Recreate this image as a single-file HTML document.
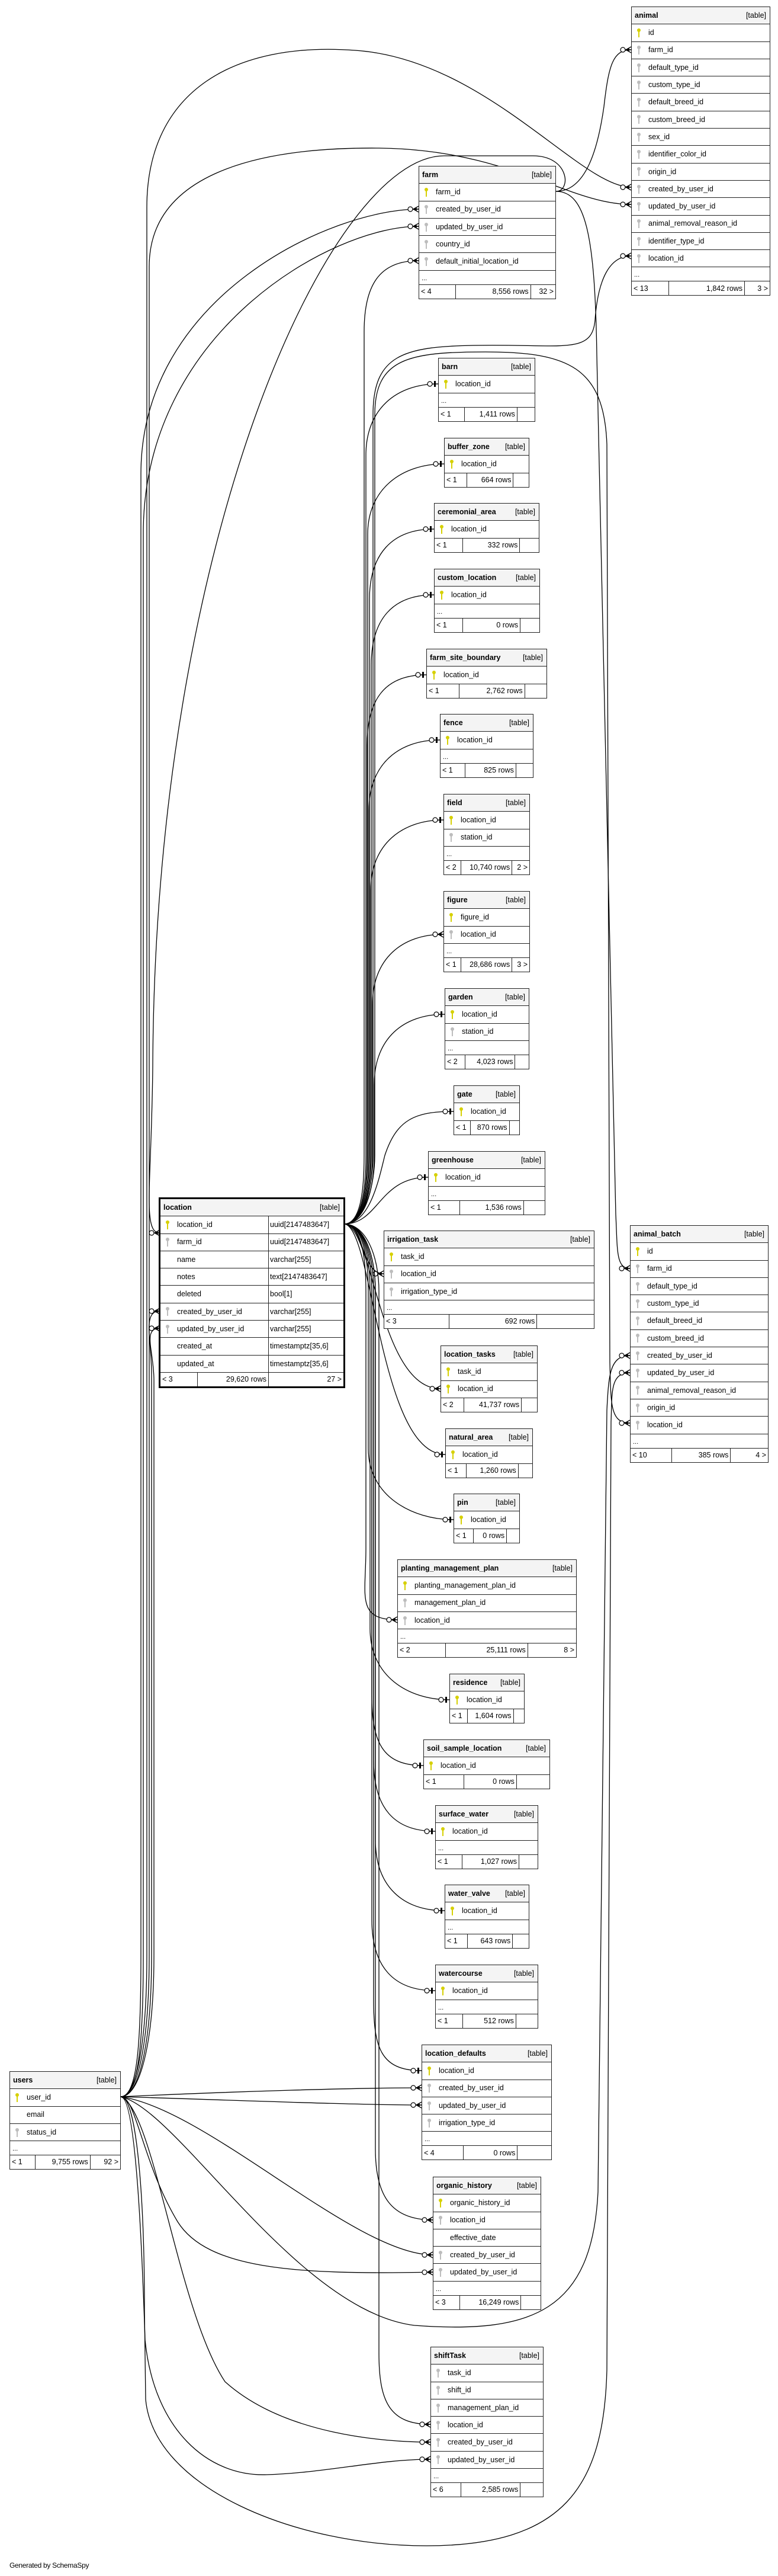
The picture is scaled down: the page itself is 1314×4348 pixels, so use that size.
<!DOCTYPE html>
<html><head><meta charset="utf-8">
<style>
*{box-sizing:border-box;margin:0;padding:0}
body{width:1314px;height:4348px;background:#fff;position:relative;overflow:hidden;font-family:"Liberation Sans",Arial,sans-serif;color:#000}
svg{position:absolute;left:0;top:0}
.t{position:absolute;border:1px solid #222;background:#fff;font-size:12.5px;line-height:1}
.t.big{border:3px solid #000}
.h{height:29.3px;background:#f4f4f4;border-bottom:1px solid #222;display:flex;justify-content:space-between;align-items:center;padding:0 6px 0 5px;font-weight:bold;white-space:nowrap}
.h span{font-weight:normal}
.r{height:29.3px;border-bottom:1px solid #222;display:flex;align-items:center;padding-left:8px;white-space:nowrap}
.e{height:24px;border-bottom:1px solid #222;padding:8px 0 0 4px;font-size:11px}
.f{height:23px;display:flex;white-space:nowrap}
.f div{display:flex;align-items:center;padding:0 3px}
.f .a{width:27%;border-right:1px solid #222}
.f .b{flex:1;justify-content:flex-end;border-right:1px solid #222}
.f .c{width:18%;justify-content:flex-end}
.k{display:inline-block;width:8px;height:15px;position:relative;margin-right:12px;flex:none}
.k::before{content:"";position:absolute;left:1px;top:0;width:6px;height:6px;border-radius:50%;background:currentColor}
.k::after{content:"";position:absolute;left:3px;top:5px;width:2px;height:10px;background:currentColor}
.p{color:#d6d000}.g{color:#bdbdbd}.n{color:transparent}
.loc .r{padding-left:0}
.loc .r .c1{width:183px;height:100%;display:flex;align-items:center;padding-left:8px;border-right:1px solid #222}
.loc .r .c2{padding-left:2px}
#gen{position:absolute;left:16px;top:4323px;font-size:12px;letter-spacing:-0.3px}
</style></head><body>

<svg width="1314" height="4348" viewBox="0 0 1314 4348">
<defs>
<marker id="one" markerUnits="userSpaceOnUse" markerWidth="22" markerHeight="14" viewBox="0 -7 22 14" refX="22" refY="0" orient="auto">
<line x1="12" y1="0" x2="22" y2="0" stroke="#000" stroke-width="1.2"/>
<circle cx="8" cy="0" r="4" fill="#fff" stroke="#000" stroke-width="1.2"/>
<rect x="15" y="-5" width="3" height="10" fill="#000"/>
</marker>
<marker id="many" markerUnits="userSpaceOnUse" markerWidth="22" markerHeight="14" viewBox="0 -7 22 14" refX="22" refY="0" orient="auto">
<circle cx="8" cy="0" r="4" fill="#fff" stroke="#000" stroke-width="1.2"/>
<path d="M12,0 L22,0 M13,0 L22,-5 M13,0 L22,5 M13,0 L18,-2.5 L18,2.5 Z" stroke="#000" stroke-width="1.4" fill="#000"/>
</marker>
</defs>
<g fill="none" stroke="#000" stroke-width="1.3">
<!-- location.location_id to children (upward) -->
<path marker-end="url(#one)" d="M581,2066 C610,2066 618,2010 618,1950 L618,768 C618,690 670,648 740,648"/>
<path marker-end="url(#one)" d="M581,2066 C611,2066 621,2010 621,1950 L621,902 C621,824 680,783 750,783"/>
<path marker-end="url(#one)" d="M581,2066 C612,2066 624,2010 624,1950 L624,1012 C624,934 663,893 733,893"/>
<path marker-end="url(#one)" d="M581,2066 C613,2066 627,2010 627,1950 L627,1123 C627,1045 663,1004 733,1004"/>
<path marker-end="url(#one)" d="M581,2066 C611,2066 620,2010 620,1950 L620,1258 C620,1180 650,1139 720,1139"/>
<path marker-end="url(#one)" d="M581,2066 C612,2066 623,2010 623,1950 L623,1368 C623,1290 673,1249 743,1249"/>
<path marker-end="url(#one)" d="M581,2066 C613,2066 626,2010 626,1950 L626,1503 C626,1425 679,1384 749,1384"/>
<path marker-end="url(#many)" d="M581,2066 C614,2066 629,2010 629,1950 L629,1696 C629,1618 679,1577 749,1577"/>
<path marker-end="url(#one)" d="M581,2066 C615,2066 632,2010 632,1950 L632,1831 C632,1753 681,1712 751,1712"/>
<path marker-end="url(#one)" d="M581,2066 C625,2066 640,1990 650,1950 C670,1890 700,1876 766,1876"/>
<path marker-end="url(#one)" d="M581,2066 C640,2066 640,1987 723,1987"/>
<path marker-end="url(#many)" d="M581,2066 C609,2066 615,2010 615,1950 L615,560 C615,482 640,440 707,440"/>
<path marker-end="url(#many)" d="M581,2066 C615,2066 610,2150 648,2150"/>
<path marker-end="url(#many)" d="M581,2066 C630,2066 640,2344 744,2344"/>
<path marker-end="url(#one)" d="M581,2066 C630,2066 640,2455 752,2455"/>
<!-- downward -->
<path marker-end="url(#one)" d="M581,2066 C612,2066 622,2120 622,2180 L622,2445 C622,2525 696,2565 766,2565"/>
<path marker-end="url(#many)" d="M581,2066 C610,2066 618,2120 618,2180 L618,2614 C618,2694 601,2734 671,2734"/>
<path marker-end="url(#one)" d="M581,2066 C613,2066 625,2120 625,2180 L625,2749 C625,2829 689,2869 759,2869"/>
<path marker-end="url(#one)" d="M581,2066 C614,2066 628,2120 628,2180 L628,2860 C628,2940 645,2980 715,2980"/>
<path marker-end="url(#one)" d="M581,2066 C615,2066 631,2120 631,2180 L631,2971 C631,3051 665,3091 735,3091"/>
<path marker-end="url(#one)" d="M581,2066 C616,2066 634,2120 634,2180 L634,3105 C634,3185 681,3225 751,3225"/>
<path marker-end="url(#one)" d="M581,2066 C614,2066 628,2120 628,2180 L628,3240 C628,3320 665,3360 735,3360"/>
<path marker-end="url(#one)" d="M581,2066 C615,2066 631,2120 631,2180 L631,3375 C631,3455 642,3495 712,3495"/>
<path marker-end="url(#many)" d="M581,2066 C616,2066 634,2120 634,2180 L634,3627 C634,3707 661,3747 731,3747"/>
<path marker-end="url(#many)" d="M581,2066 C618,2066 640,2120 640,2180 L640,3972 C640,4052 657,4092 727,4092"/>
<!-- location to animal / animal_batch -->
<path marker-end="url(#many)" d="M581,2066 C615,2066 630,2000 630,1950 L630,700 C630,600 680,585 800,583 C950,580 1000,600 1005,540 C1010,470 1030,432 1066,432"/>
<path marker-end="url(#many)" d="M581,2066 C616,2066 633,2000 633,1950 L633,700 C633,605 690,594 820,594 C960,594 1020,620 1025,750 L1030,2300 C1032,2370 1030,2402 1064,2402"/>
<!-- farm.farm_id -->
<path marker-end="url(#many)" d="M939,323 C990,323 1010,250 1020,180 C1028,110 1035,84 1066,84"/>
<path marker-end="url(#many)" d="M939,323 C990,323 1005,400 1008,600 L1040,2050 C1043,2110 1040,2141 1064,2141"/>
<path marker-end="url(#many)" d="M939,323 C965,323 962,263 900,263 L750,263 C560,263 262,900 258,1800 C256,2000 240,2081 270,2081"/>
<!-- users.user_id -->
<path marker-end="url(#many)" d="M204,3539 C232,3539 238,3450 238,3300 L238,800 C238,500 560,353 707,353"/>
<path marker-end="url(#many)" d="M204,3539 C234,3539 242,3450 242,3300 L242,900 C242,560 560,382 707,382"/>
<path marker-end="url(#many)" d="M204,3539 C230,3539 248,3450 248,3300 L248,350 C248,150 400,70 600,85 C820,100 980,316 1066,316"/>
<path marker-end="url(#many)" d="M204,3539 C232,3539 252,3450 252,3300 L252,450 C252,300 420,248 640,250 C860,252 960,345 1066,345"/>
<path marker-end="url(#many)" d="M204,3539 C235,3539 256,3450 256,3300 L256,2320 C256,2260 240,2213 270,2213"/>
<path marker-end="url(#many)" d="M204,3539 C236,3539 260,3450 260,3300 L260,2330 C260,2280 240,2242 270,2242"/>
<path marker-end="url(#many)" d="M204,3539 C300,3560 500,3900 700,3925 C900,3940 1000,3900 1010,3700 L1025,2380 C1028,2320 1030,2288 1064,2288"/>
<path marker-end="url(#many)" d="M204,3539 C230,3539 244,3700 244,3900 L246,4050 C260,4200 500,4297 720,4297 C950,4297 1020,4200 1025,4000 L1032,2400 C1034,2350 1030,2317 1064,2317"/>
<path marker-end="url(#many)" d="M204,3539 C400,3530 600,3524 712,3524"/>
<path marker-end="url(#many)" d="M204,3539 C400,3545 600,3553 712,3553"/>
<path marker-end="url(#many)" d="M204,3539 C350,3560 600,3806 731,3806"/>
<path marker-end="url(#many)" d="M204,3539 C230,3539 240,3650 300,3750 C350,3830 500,3840 731,3835"/>
<path marker-end="url(#many)" d="M204,3539 C260,3560 300,3900 380,4020 C480,4110 650,4122 727,4122"/>
<path marker-end="url(#many)" d="M204,3539 C230,3539 240,3800 245,3950 C260,4100 350,4180 450,4177 C550,4174 640,4151 727,4151"/>
</g>
</svg>

<!-- animal -->
<div class="t" style="left:1066px;top:11px;width:235px">
<div class="h">animal<span>[table]</span></div>
<div class="r"><i class="k p"></i>id</div>
<div class="r"><i class="k g"></i>farm_id</div>
<div class="r"><i class="k g"></i>default_type_id</div>
<div class="r"><i class="k g"></i>custom_type_id</div>
<div class="r"><i class="k g"></i>default_breed_id</div>
<div class="r"><i class="k g"></i>custom_breed_id</div>
<div class="r"><i class="k g"></i>sex_id</div>
<div class="r"><i class="k g"></i>identifier_color_id</div>
<div class="r"><i class="k g"></i>origin_id</div>
<div class="r"><i class="k g"></i>created_by_user_id</div>
<div class="r"><i class="k g"></i>updated_by_user_id</div>
<div class="r"><i class="k g"></i>animal_removal_reason_id</div>
<div class="r"><i class="k g"></i>identifier_type_id</div>
<div class="r"><i class="k g"></i>location_id</div>
<div class="e">...</div>
<div class="f"><div class="a">&lt; 13</div><div class="b">1,842 rows</div><div class="c">3 &gt;</div></div>
</div>

<!-- farm -->
<div class="t" style="left:707px;top:280px;width:232px">
<div class="h">farm<span>[table]</span></div>
<div class="r"><i class="k p"></i>farm_id</div>
<div class="r"><i class="k g"></i>created_by_user_id</div>
<div class="r"><i class="k g"></i>updated_by_user_id</div>
<div class="r"><i class="k g"></i>country_id</div>
<div class="r"><i class="k g"></i>default_initial_location_id</div>
<div class="e">...</div>
<div class="f"><div class="a">&lt; 4</div><div class="b">8,556 rows</div><div class="c">32 &gt;</div></div>
</div>

<div class="t" style="left:740px;top:604px;width:164px">
<div class="h">barn<span>[table]</span></div>
<div class="r"><i class="k p"></i>location_id</div>
<div class="e">...</div>
<div class="f"><div class="a">&lt; 1</div><div class="b">1,411 rows</div><div class="c"></div></div>
</div>

<div class="t" style="left:750px;top:739px;width:144px">
<div class="h">buffer_zone<span>[table]</span></div>
<div class="r"><i class="k p"></i>location_id</div>
<div class="f"><div class="a">&lt; 1</div><div class="b">664 rows</div><div class="c"></div></div>
</div>

<div class="t" style="left:733px;top:849px;width:178px">
<div class="h">ceremonial_area<span>[table]</span></div>
<div class="r"><i class="k p"></i>location_id</div>
<div class="f"><div class="a">&lt; 1</div><div class="b">332 rows</div><div class="c"></div></div>
</div>

<div class="t" style="left:733px;top:960px;width:179px">
<div class="h">custom_location<span>[table]</span></div>
<div class="r"><i class="k p"></i>location_id</div>
<div class="e">...</div>
<div class="f"><div class="a">&lt; 1</div><div class="b">0 rows</div><div class="c"></div></div>
</div>

<div class="t" style="left:720px;top:1095px;width:204px">
<div class="h">farm_site_boundary<span>[table]</span></div>
<div class="r"><i class="k p"></i>location_id</div>
<div class="f"><div class="a">&lt; 1</div><div class="b">2,762 rows</div><div class="c"></div></div>
</div>

<div class="t" style="left:743px;top:1205px;width:158px">
<div class="h">fence<span>[table]</span></div>
<div class="r"><i class="k p"></i>location_id</div>
<div class="e">...</div>
<div class="f"><div class="a">&lt; 1</div><div class="b">825 rows</div><div class="c"></div></div>
</div>

<div class="t" style="left:749px;top:1340px;width:146px">
<div class="h">field<span>[table]</span></div>
<div class="r"><i class="k p"></i>location_id</div>
<div class="r"><i class="k g"></i>station_id</div>
<div class="e">...</div>
<div class="f"><div class="a" style="width:20%">&lt; 2</div><div class="b">10,740 rows</div><div class="c" style="width:20%">2 &gt;</div></div>
</div>

<div class="t" style="left:749px;top:1504px;width:146px">
<div class="h">figure<span>[table]</span></div>
<div class="r"><i class="k p"></i>figure_id</div>
<div class="r"><i class="k g"></i>location_id</div>
<div class="e">...</div>
<div class="f"><div class="a" style="width:20%">&lt; 1</div><div class="b">28,686 rows</div><div class="c" style="width:20%">3 &gt;</div></div>
</div>

<div class="t" style="left:751px;top:1668px;width:143px">
<div class="h">garden<span>[table]</span></div>
<div class="r"><i class="k p"></i>location_id</div>
<div class="r"><i class="k g"></i>station_id</div>
<div class="e">...</div>
<div class="f"><div class="a" style="width:24%">&lt; 2</div><div class="b">4,023 rows</div><div class="c" style="width:16%"></div></div>
</div>

<div class="t" style="left:766px;top:1832px;width:112px">
<div class="h">gate<span>[table]</span></div>
<div class="r"><i class="k p"></i>location_id</div>
<div class="f"><div class="a" style="width:25%">&lt; 1</div><div class="b">870 rows</div><div class="c" style="width:15%"></div></div>
</div>

<div class="t" style="left:723px;top:1943px;width:198px">
<div class="h">greenhouse<span>[table]</span></div>
<div class="r"><i class="k p"></i>location_id</div>
<div class="e">...</div>
<div class="f"><div class="a">&lt; 1</div><div class="b">1,536 rows</div><div class="c"></div></div>
</div>

<!-- location -->
<div class="t big loc" style="left:268px;top:2021px;width:315px">
<div class="h">location<span>[table]</span></div>
<div class="r"><div class="c1"><i class="k p"></i>location_id</div><div class="c2">uuid[2147483647]</div></div>
<div class="r"><div class="c1"><i class="k g"></i>farm_id</div><div class="c2">uuid[2147483647]</div></div>
<div class="r"><div class="c1"><i class="k n"></i>name</div><div class="c2">varchar[255]</div></div>
<div class="r"><div class="c1"><i class="k n"></i>notes</div><div class="c2">text[2147483647]</div></div>
<div class="r"><div class="c1"><i class="k n"></i>deleted</div><div class="c2">bool[1]</div></div>
<div class="r"><div class="c1"><i class="k g"></i>created_by_user_id</div><div class="c2">varchar[255]</div></div>
<div class="r"><div class="c1"><i class="k g"></i>updated_by_user_id</div><div class="c2">varchar[255]</div></div>
<div class="r"><div class="c1"><i class="k n"></i>created_at</div><div class="c2">timestamptz[35,6]</div></div>
<div class="r"><div class="c1"><i class="k n"></i>updated_at</div><div class="c2">timestamptz[35,6]</div></div>
<div class="f"><div class="a" style="width:63px">&lt; 3</div><div class="b" style="flex:none;width:120px">29,620 rows</div><div class="c" style="flex:1">27 &gt;</div></div>
</div>

<div class="t" style="left:648px;top:2077px;width:356px">
<div class="h">irrigation_task<span>[table]</span></div>
<div class="r"><i class="k p"></i>task_id</div>
<div class="r"><i class="k g"></i>location_id</div>
<div class="r"><i class="k g"></i>irrigation_type_id</div>
<div class="e">...</div>
<div class="f"><div class="a" style="width:31%">&lt; 3</div><div class="b">692 rows</div><div class="c" style="width:27%"></div></div>
</div>

<div class="t" style="left:744px;top:2271px;width:164px">
<div class="h">location_tasks<span>[table]</span></div>
<div class="r"><i class="k p"></i>task_id</div>
<div class="r"><i class="k p"></i>location_id</div>
<div class="f"><div class="a" style="width:24%">&lt; 2</div><div class="b">41,737 rows</div><div class="c" style="width:16%"></div></div>
</div>

<div class="t" style="left:752px;top:2411px;width:148px">
<div class="h">natural_area<span>[table]</span></div>
<div class="r"><i class="k p"></i>location_id</div>
<div class="f"><div class="a" style="width:24%">&lt; 1</div><div class="b">1,260 rows</div><div class="c" style="width:16%"></div></div>
</div>

<div class="t" style="left:766px;top:2521px;width:112px">
<div class="h">pin<span>[table]</span></div>
<div class="r"><i class="k p"></i>location_id</div>
<div class="f"><div class="a" style="width:30%">&lt; 1</div><div class="b">0 rows</div><div class="c" style="width:19%"></div></div>
</div>

<div class="t" style="left:671px;top:2632px;width:303px">
<div class="h">planting_management_plan<span>[table]</span></div>
<div class="r"><i class="k p"></i>planting_management_plan_id</div>
<div class="r"><i class="k g"></i>management_plan_id</div>
<div class="r"><i class="k g"></i>location_id</div>
<div class="e">...</div>
<div class="f"><div class="a">&lt; 2</div><div class="b">25,111 rows</div><div class="c" style="width:27%">8 &gt;</div></div>
</div>

<div class="t" style="left:759px;top:2825px;width:127px">
<div class="h">residence<span>[table]</span></div>
<div class="r"><i class="k p"></i>location_id</div>
<div class="f"><div class="a" style="width:24%">&lt; 1</div><div class="b">1,604 rows</div><div class="c" style="width:14%"></div></div>
</div>

<div class="t" style="left:715px;top:2936px;width:214px">
<div class="h">soil_sample_location<span>[table]</span></div>
<div class="r"><i class="k p"></i>location_id</div>
<div class="f"><div class="a" style="width:32%">&lt; 1</div><div class="b">0 rows</div><div class="c" style="width:26%"></div></div>
</div>

<div class="t" style="left:735px;top:3047px;width:174px">
<div class="h">surface_water<span>[table]</span></div>
<div class="r"><i class="k p"></i>location_id</div>
<div class="e">...</div>
<div class="f"><div class="a" style="width:26%">&lt; 1</div><div class="b">1,027 rows</div><div class="c"></div></div>
</div>

<div class="t" style="left:751px;top:3181px;width:143px">
<div class="h">water_valve<span>[table]</span></div>
<div class="r"><i class="k p"></i>location_id</div>
<div class="e">...</div>
<div class="f"><div class="a">&lt; 1</div><div class="b">643 rows</div><div class="c" style="width:19%"></div></div>
</div>

<div class="t" style="left:735px;top:3316px;width:174px">
<div class="h">watercourse<span>[table]</span></div>
<div class="r"><i class="k p"></i>location_id</div>
<div class="e">...</div>
<div class="f"><div class="a">&lt; 1</div><div class="b">512 rows</div><div class="c" style="width:21%"></div></div>
</div>

<div class="t" style="left:712px;top:3451px;width:220px">
<div class="h">location_defaults<span>[table]</span></div>
<div class="r"><i class="k p"></i>location_id</div>
<div class="r"><i class="k g"></i>created_by_user_id</div>
<div class="r"><i class="k g"></i>updated_by_user_id</div>
<div class="r"><i class="k g"></i>irrigation_type_id</div>
<div class="e">...</div>
<div class="f"><div class="a" style="width:32%">&lt; 4</div><div class="b">0 rows</div><div class="c" style="width:26%"></div></div>
</div>

<div class="t" style="left:731px;top:3674px;width:183px">
<div class="h">organic_history<span>[table]</span></div>
<div class="r"><i class="k p"></i>organic_history_id</div>
<div class="r"><i class="k g"></i>location_id</div>
<div class="r"><i class="k n"></i>effective_date</div>
<div class="r"><i class="k g"></i>created_by_user_id</div>
<div class="r"><i class="k g"></i>updated_by_user_id</div>
<div class="e">...</div>
<div class="f"><div class="a" style="width:25%">&lt; 3</div><div class="b">16,249 rows</div><div class="c"></div></div>
</div>

<div class="t" style="left:727px;top:3961px;width:191px">
<div class="h">shiftTask<span>[table]</span></div>
<div class="r"><i class="k g"></i>task_id</div>
<div class="r"><i class="k g"></i>shift_id</div>
<div class="r"><i class="k g"></i>management_plan_id</div>
<div class="r"><i class="k g"></i>location_id</div>
<div class="r"><i class="k g"></i>created_by_user_id</div>
<div class="r"><i class="k g"></i>updated_by_user_id</div>
<div class="e">...</div>
<div class="f"><div class="a" style="width:27%">&lt; 6</div><div class="b">2,585 rows</div><div class="c" style="width:20%"></div></div>
</div>

<div class="t" style="left:16px;top:3496px;width:188px">
<div class="h">users<span>[table]</span></div>
<div class="r"><i class="k p"></i>user_id</div>
<div class="r"><i class="k n"></i>email</div>
<div class="r"><i class="k g"></i>status_id</div>
<div class="e">...</div>
<div class="f"><div class="a" style="width:23%">&lt; 1</div><div class="b">9,755 rows</div><div class="c" style="width:27%">92 &gt;</div></div>
</div>

<div class="t" style="left:1064px;top:2068px;width:234px">
<div class="h">animal_batch<span>[table]</span></div>
<div class="r"><i class="k p"></i>id</div>
<div class="r"><i class="k g"></i>farm_id</div>
<div class="r"><i class="k g"></i>default_type_id</div>
<div class="r"><i class="k g"></i>custom_type_id</div>
<div class="r"><i class="k g"></i>default_breed_id</div>
<div class="r"><i class="k g"></i>custom_breed_id</div>
<div class="r"><i class="k g"></i>created_by_user_id</div>
<div class="r"><i class="k g"></i>updated_by_user_id</div>
<div class="r"><i class="k g"></i>animal_removal_reason_id</div>
<div class="r"><i class="k g"></i>origin_id</div>
<div class="r"><i class="k g"></i>location_id</div>
<div class="e">...</div>
<div class="f"><div class="a" style="width:30%">&lt; 10</div><div class="b">385 rows</div><div class="c" style="width:27%">4 &gt;</div></div>
</div>

<div id="gen">Generated by SchemaSpy</div>
</body></html>
